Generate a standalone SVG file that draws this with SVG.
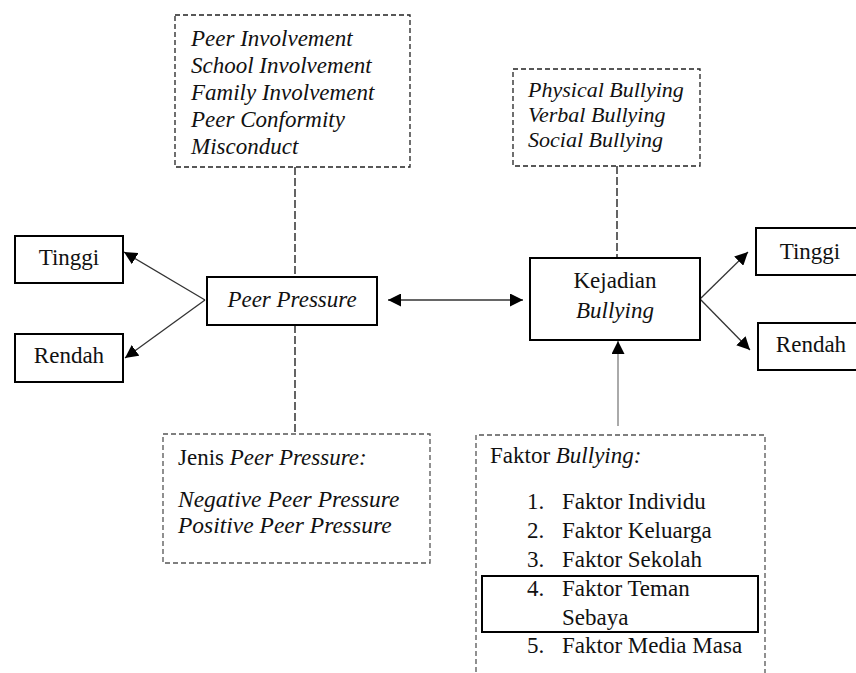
<svg xmlns="http://www.w3.org/2000/svg" width="856" height="673" viewBox="0 0 856 673">
<defs>
<style>
.box{fill:#fff;stroke:#000;stroke-width:2}
.dbox{fill:none;stroke:#222;stroke-width:1.3;stroke-dasharray:5,3}
.dboxg{fill:none;stroke:#555;stroke-width:1.3;stroke-dasharray:5,3}
.dl{stroke:#111;stroke-width:1.3;stroke-dasharray:8,3;fill:none}
.ar{stroke:#333;stroke-width:1.3;fill:none}
</style>
<marker id="ah" viewBox="0 0 10 10" refX="10" refY="5" markerWidth="13" markerHeight="13" markerUnits="userSpaceOnUse" orient="auto-start-reverse">
<path d="M0,0 L10,5 L0,10 z" fill="#000"/>
</marker>
<marker id="ahg" viewBox="0 0 10 10" refX="10" refY="5" markerWidth="13" markerHeight="13" markerUnits="userSpaceOnUse" orient="auto">
<path d="M0,0 L10,5 L0,10 z" fill="#000"/>
</marker>
</defs>
<rect width="856" height="673" fill="#fff"/>
<g id="connectors">
<line class="dl" x1="295" y1="167" x2="295" y2="277"/>
<line class="dl" x1="295" y1="325" x2="295" y2="434"/>
<line class="dl" x1="617" y1="166" x2="617" y2="258"/>
<line class="ar" x1="205" y1="300" x2="124" y2="252" marker-end="url(#ah)"/>
<line class="ar" x1="205" y1="300" x2="125" y2="358" marker-end="url(#ah)"/>
<line class="ar" x1="388" y1="300" x2="523" y2="300" stroke-width="2" marker-start="url(#ah)" marker-end="url(#ah)"/>
<line class="ar" x1="700" y1="299" x2="748" y2="252" marker-end="url(#ah)"/>
<line class="ar" x1="700" y1="299" x2="750" y2="350" marker-end="url(#ah)"/>
<line x1="618" y1="426" x2="618" y2="341" stroke="#aaa" stroke-width="2" marker-end="url(#ahg)"/>
</g>
<g id="peer-aspects">
<rect class="dbox" x="175" y="15" width="235" height="152"/>
<text x="191" y="46" font-family="Liberation Serif" font-size="23" font-style="italic" fill="#111">Peer Involvement</text>
<text x="191" y="73" font-family="Liberation Serif" font-size="23" font-style="italic" fill="#111">School Involvement</text>
<text x="191" y="100" font-family="Liberation Serif" font-size="23" font-style="italic" fill="#111">Family Involvement</text>
<text x="191" y="127" font-family="Liberation Serif" font-size="23" font-style="italic" fill="#111">Peer Conformity</text>
<text x="191" y="154" font-family="Liberation Serif" font-size="23" font-style="italic" fill="#111">Misconduct</text>
</g>
<g id="bullying-types">
<rect class="dbox" x="513" y="69" width="187" height="97"/>
<text x="528" y="97" font-family="Liberation Serif" font-size="22" font-style="italic" fill="#111">Physical Bullying</text>
<text x="528" y="122" font-family="Liberation Serif" font-size="22" font-style="italic" fill="#111">Verbal Bullying</text>
<text x="528" y="147" font-family="Liberation Serif" font-size="22" font-style="italic" fill="#111">Social Bullying</text>
</g>
<g id="tinggi-left">
<rect class="box" x="15" y="236" width="108" height="47"/>
<text x="69" y="265" text-anchor="middle" font-family="Liberation Serif" font-size="23" fill="#111">Tinggi</text>
</g>
<g id="rendah-left">
<rect class="box" x="15" y="334" width="108" height="48"/>
<text x="69" y="363" text-anchor="middle" font-family="Liberation Serif" font-size="23" fill="#111">Rendah</text>
</g>
<g id="peer-pressure">
<rect class="box" x="207" y="277" width="170" height="48"/>
<text x="292" y="307" text-anchor="middle" font-family="Liberation Serif" font-size="23" font-style="italic" fill="#111">Peer Pressure</text>
</g>
<g id="kejadian-bullying">
<rect class="box" x="530" y="258" width="170" height="82"/>
<text x="615" y="288" text-anchor="middle" font-family="Liberation Serif" font-size="23" fill="#111">Kejadian</text>
<text x="615" y="318" text-anchor="middle" font-family="Liberation Serif" font-size="23" font-style="italic" fill="#111">Bullying</text>
</g>
<g id="tinggi-right">
<rect class="box" x="756" y="228" width="104" height="47"/>
<text x="810" y="259" text-anchor="middle" font-family="Liberation Serif" font-size="23" fill="#111">Tinggi</text>
</g>
<g id="rendah-right">
<rect class="box" x="758" y="323" width="102" height="47"/>
<text x="811" y="352" text-anchor="middle" font-family="Liberation Serif" font-size="23" fill="#111">Rendah</text>
</g>
<g id="jenis-peer-pressure">
<rect class="dboxg" x="163" y="434" width="267" height="129"/>
<text x="178" y="465" font-family="Liberation Serif" font-size="23" fill="#111">Jenis <tspan font-style="italic">Peer Pressure:</tspan></text>
<text x="178" y="507" font-family="Liberation Serif" font-size="23.5" font-style="italic" fill="#111">Negative Peer Pressure</text>
<text x="178" y="533" font-family="Liberation Serif" font-size="23.5" font-style="italic" fill="#111">Positive Peer Pressure</text>
</g>
<g id="faktor-bullying">
<path class="dboxg" d="M476,680 V435 H765 V680"/>
<text x="490" y="463" font-family="Liberation Serif" font-size="23" fill="#111">Faktor <tspan font-style="italic">Bullying:</tspan></text>
<text x="527" y="509" font-family="Liberation Serif" font-size="23" fill="#111">1.</text>
<text x="562" y="509" font-family="Liberation Serif" font-size="23" fill="#111">Faktor Individu</text>
<text x="527" y="538" font-family="Liberation Serif" font-size="23" fill="#111">2.</text>
<text x="562" y="538" font-family="Liberation Serif" font-size="23" fill="#111">Faktor Keluarga</text>
<text x="527" y="567" font-family="Liberation Serif" font-size="23" fill="#111">3.</text>
<text x="562" y="567" font-family="Liberation Serif" font-size="23" fill="#111">Faktor Sekolah</text>
<rect x="482" y="576" width="276" height="56" fill="none" stroke="#000" stroke-width="2"/>
<text x="527" y="596" font-family="Liberation Serif" font-size="23" fill="#111">4.</text>
<text x="562" y="596" font-family="Liberation Serif" font-size="23" fill="#111">Faktor Teman</text>
<text x="562" y="625" font-family="Liberation Serif" font-size="23" fill="#111">Sebaya</text>
<text x="527" y="653" font-family="Liberation Serif" font-size="23" fill="#111">5.</text>
<text x="562" y="653" font-family="Liberation Serif" font-size="23" fill="#111">Faktor Media Masa</text>
</g>
</svg>
